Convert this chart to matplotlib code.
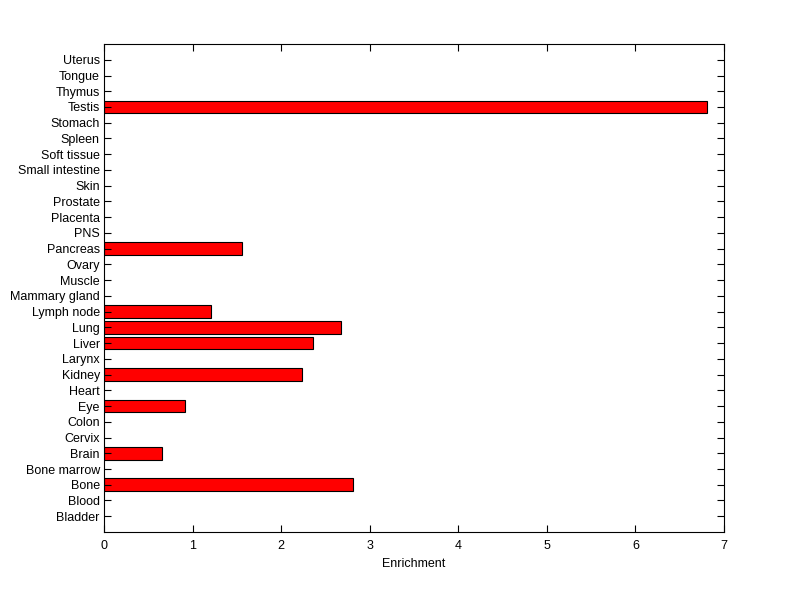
import matplotlib

matplotlib.use("Agg")
import matplotlib.pyplot as plt
import numpy as np

# tissues, bottom to top
tissues = [
    "Bladder", "Blood", "Bone", "Bone marrow", "Brain", "Cervix", "Colon",
    "Eye", "Heart", "Kidney", "Larynx", "Liver", "Lung", "Lymph node",
    "Mammary gland", "Muscle", "Ovary", "Pancreas", "PNS", "Placenta",
    "Prostate", "Skin", "Small intestine", "Soft tissue", "Spleen",
    "Stomach", "Testis", "Thymus", "Tongue", "Uterus",
]
enrichment = [
    0, 0, 2.81, 0, 0.655, 0, 0,
    0.92, 0, 2.23, 0, 2.36, 2.68, 1.21,
    0, 0, 0, 1.56, 0, 0,
    0, 0, 0, 0, 0,
    0, 6.81, 0, 0, 0,
]
xticks = [0, 1, 2, 3, 4, 5, 6, 7]

plt.rcParams["font.family"] = ["Liberation Sans", "DejaVu Sans"]
plt.rcParams["font.size"] = 9

fig = plt.figure(figsize=(8.0, 5.99), dpi=100)
ax = fig.add_axes([0.13, 0.1119, 0.775, 0.8146])

pos = np.arange(1, len(tissues) + 1)
vals = np.array(enrichment)
mask = vals > 0
ax.barh(pos[mask], vals[mask], height=0.8, color="#ff0000",
        edgecolor="black", linewidth=0.8)

ax.set_xlim(0, 7)
ax.set_ylim(0, len(tissues) + 1)
ax.set_xticks(xticks)
ax.set_yticks(pos)
ax.set_yticklabels(tissues)
ax.set_xlabel("Enrichment", labelpad=4)

ax.tick_params(direction="in", length=5, width=0.8, top=True, right=True,
               labelsize=9)
ax.tick_params(axis="x", pad=6)
ax.tick_params(axis="y", pad=3)
for sp in ax.spines.values():
    sp.set_linewidth(0.8)

fig.savefig("out.png", dpi=100)
plt.close(fig)
